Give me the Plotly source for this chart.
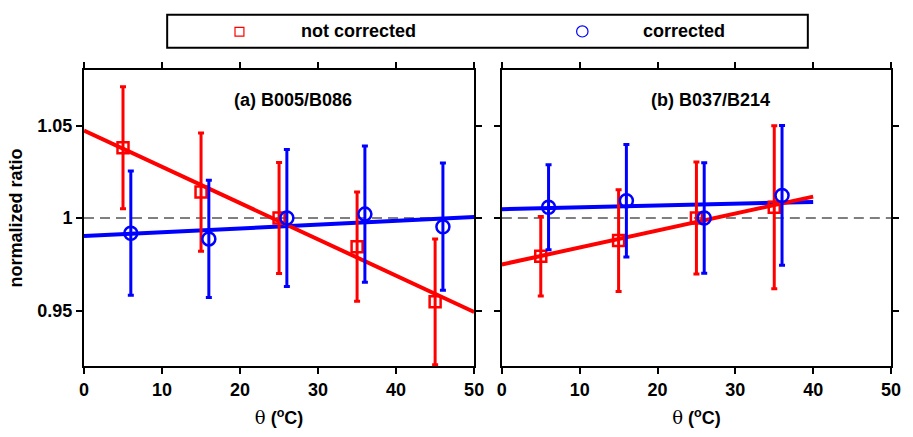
import numpy as np
import plotly.graph_objects as go

# ---- data ----
xa_red = [5, 15, 25, 35, 45]
ya_red = [1.038, 1.014, 1.000, 0.9845, 0.9547]
ea_red = [0.033, 0.032, 0.030, 0.0295, 0.034]
xa_blue = [6, 16, 26, 36, 46]
ya_blue = [0.9918, 0.9887, 1.000, 1.0021, 0.9953]
ea_blue = [0.0336, 0.0317, 0.037, 0.0368, 0.0344]

xb_red = [5, 15, 25, 35]
yb_red = [0.9793, 0.9878, 1.000, 1.0058]
eb_red = [0.0215, 0.0275, 0.0303, 0.044]
xb_blue = [6, 16, 26, 36]
yb_blue = [1.0058, 1.0093, 1.000, 1.0122]
eb_blue = [0.023, 0.0304, 0.0298, 0.0378]

fit_range_a = [0, 50]
fit_range_b = [0, 40]

x_ticks = [0, 10, 20, 30, 40, 50]
y_ticks = [0.95, 1.0, 1.05]
y_ticktext = ["0.95", "1", "1.05"]

panel_titles = ["(a) B005/B086", "(b) B037/B214"]
series_names = ["not corrected", "corrected"]

RED = "#ff0000"
BLUE = "#0000ff"
FONT = "Liberation Sans"

W, H = 913, 437
ML, MR, MT, MB = 84, 14, 70, 62
PW = W - ML - MR
PH = H - MT - MB


def fit_line(x, y, xr):
    k, b = np.polyfit(x, y, 1)
    xr = np.array(xr, dtype=float)
    return xr, k * xr + b


fig = go.Figure()

panels = [
    ("x", "y", xa_red, ya_red, ea_red, xa_blue, ya_blue, ea_blue, fit_range_a),
    ("x2", "y2", xb_red, yb_red, eb_red, xb_blue, yb_blue, eb_blue, fit_range_b),
]

for xr_, yr_, xr, yr, er, xbl, ybl, ebl, frange in panels:
    fx, fy = fit_line(xbl, ybl, frange)
    fig.add_trace(go.Scatter(x=fx, y=fy, mode="lines", line=dict(color=BLUE, width=4),
                             xaxis=xr_, yaxis=yr_, showlegend=False, hoverinfo="skip"))
    fx, fy = fit_line(xr, yr, frange)
    fig.add_trace(go.Scatter(x=fx, y=fy, mode="lines", line=dict(color=RED, width=4),
                             xaxis=xr_, yaxis=yr_, showlegend=False, hoverinfo="skip"))
    fig.add_trace(go.Scatter(
        x=xr, y=yr, mode="markers", name=series_names[0],
        marker=dict(symbol="square-open", size=11, color=RED, line=dict(width=2.5, color=RED)),
        error_y=dict(type="data", array=er, visible=True, color=RED, thickness=3, width=3),
        xaxis=xr_, yaxis=yr_, showlegend=False))
    fig.add_trace(go.Scatter(
        x=xbl, y=ybl, mode="markers", name=series_names[1],
        marker=dict(symbol="circle-open", size=13, color=BLUE, line=dict(width=2.5, color=BLUE)),
        error_y=dict(type="data", array=ebl, visible=True, color=BLUE, thickness=3, width=3),
        xaxis=xr_, yaxis=yr_, showlegend=False))

axis_common = dict(
    range=[0, 50], tickvals=x_ticks, ticks="outside", ticklen=6, tickwidth=2,
    tickcolor="black", showline=True, linewidth=2, linecolor="black", mirror="allticks",
    showgrid=False, zeroline=False,
    tickfont=dict(family=FONT, size=18, color="black", weight="bold"),
)
yaxis_common = dict(
    range=[0.92, 1.08], tickvals=y_ticks, ticktext=y_ticktext, ticks="outside", ticklen=6,
    tickwidth=2, tickcolor="black", showline=True, linewidth=2, linecolor="black",
    mirror="allticks", showgrid=False, zeroline=False,
    tickfont=dict(family=FONT, size=18, color="black", weight="bold"),
)

xtitle = dict(
    text="<span style='font-family:DejaVu Serif'>θ</span> <b>(<sup>o</sup>C)</b>",
    font=dict(family=FONT, size=18, color="black"), standoff=13,
)

fig.update_layout(
    width=W, height=H,
    margin=dict(l=ML, r=MR, t=MT, b=MB),
    paper_bgcolor="white", plot_bgcolor="white",
    xaxis=dict(domain=[0, (478 - ML) / PW], anchor="y", title=xtitle, **axis_common),
    xaxis2=dict(domain=[(506 - ML) / PW, 1], anchor="y2", title=xtitle, **axis_common),
    yaxis=dict(domain=[0, 1], anchor="x",
               title=dict(text="normalized ratio", font=dict(family=FONT, size=18, color="black", weight="bold"), standoff=10),
               **yaxis_common),
    yaxis2=dict(domain=[0, 1], anchor="x2", showticklabels=False, **yaxis_common),
    showlegend=False,
)

# dashed reference lines at y = 1
for xr_, yr_ in [("x", "y"), ("x2", "y2")]:
    fig.add_shape(type="line", xref=f"{xr_} domain", yref=yr_, x0=0, x1=1, y0=1, y1=1,
                  line=dict(color="black", width=1, dash="10px,6px"), layer="below")

# panel titles
for (xr_, yr_), t in zip([("x", "y"), ("x2", "y2")], panel_titles):
    fig.add_annotation(text=t, xref=xr_, yref=yr_, x=26.8, y=1.0637, showarrow=False,
                       font=dict(family=FONT, size=18, color="black", weight="bold"))


# legend (drawn in pixel-derived paper coordinates)
def px(xp):
    return (xp - ML) / PW


def py(yp):
    return (H - MB - yp) / PH


fig.add_shape(type="rect", xref="paper", yref="paper", x0=px(168), x1=px(815), y0=py(47), y1=py(13),
              line=dict(color="black", width=2), fillcolor="white")
fig.add_shape(type="rect", xref="paper", yref="paper", x0=px(236.5), x1=px(245.5), y0=py(35), y1=py(26),
              line=dict(color=RED, width=1.2))
fig.add_shape(type="circle", xref="paper", yref="paper", x0=px(581.5), x1=px(593), y0=py(36), y1=py(24.5),
              line=dict(color=BLUE, width=1.2))
fig.add_annotation(text=series_names[0], xref="paper", yref="paper", x=px(301), y=py(30),
                   xanchor="left", yanchor="middle", showarrow=False,
                   font=dict(family=FONT, size=18, color="black", weight="bold"))
fig.add_annotation(text=series_names[1], xref="paper", yref="paper", x=px(647), y=py(30),
                   xanchor="left", yanchor="middle", showarrow=False,
                   font=dict(family=FONT, size=18, color="black", weight="bold"))

fig.write_html(
    "out.html",
    config={"displayModeBar": False},
    post_script="document.body.style.margin='0';document.body.style.overflow='hidden';",
)
